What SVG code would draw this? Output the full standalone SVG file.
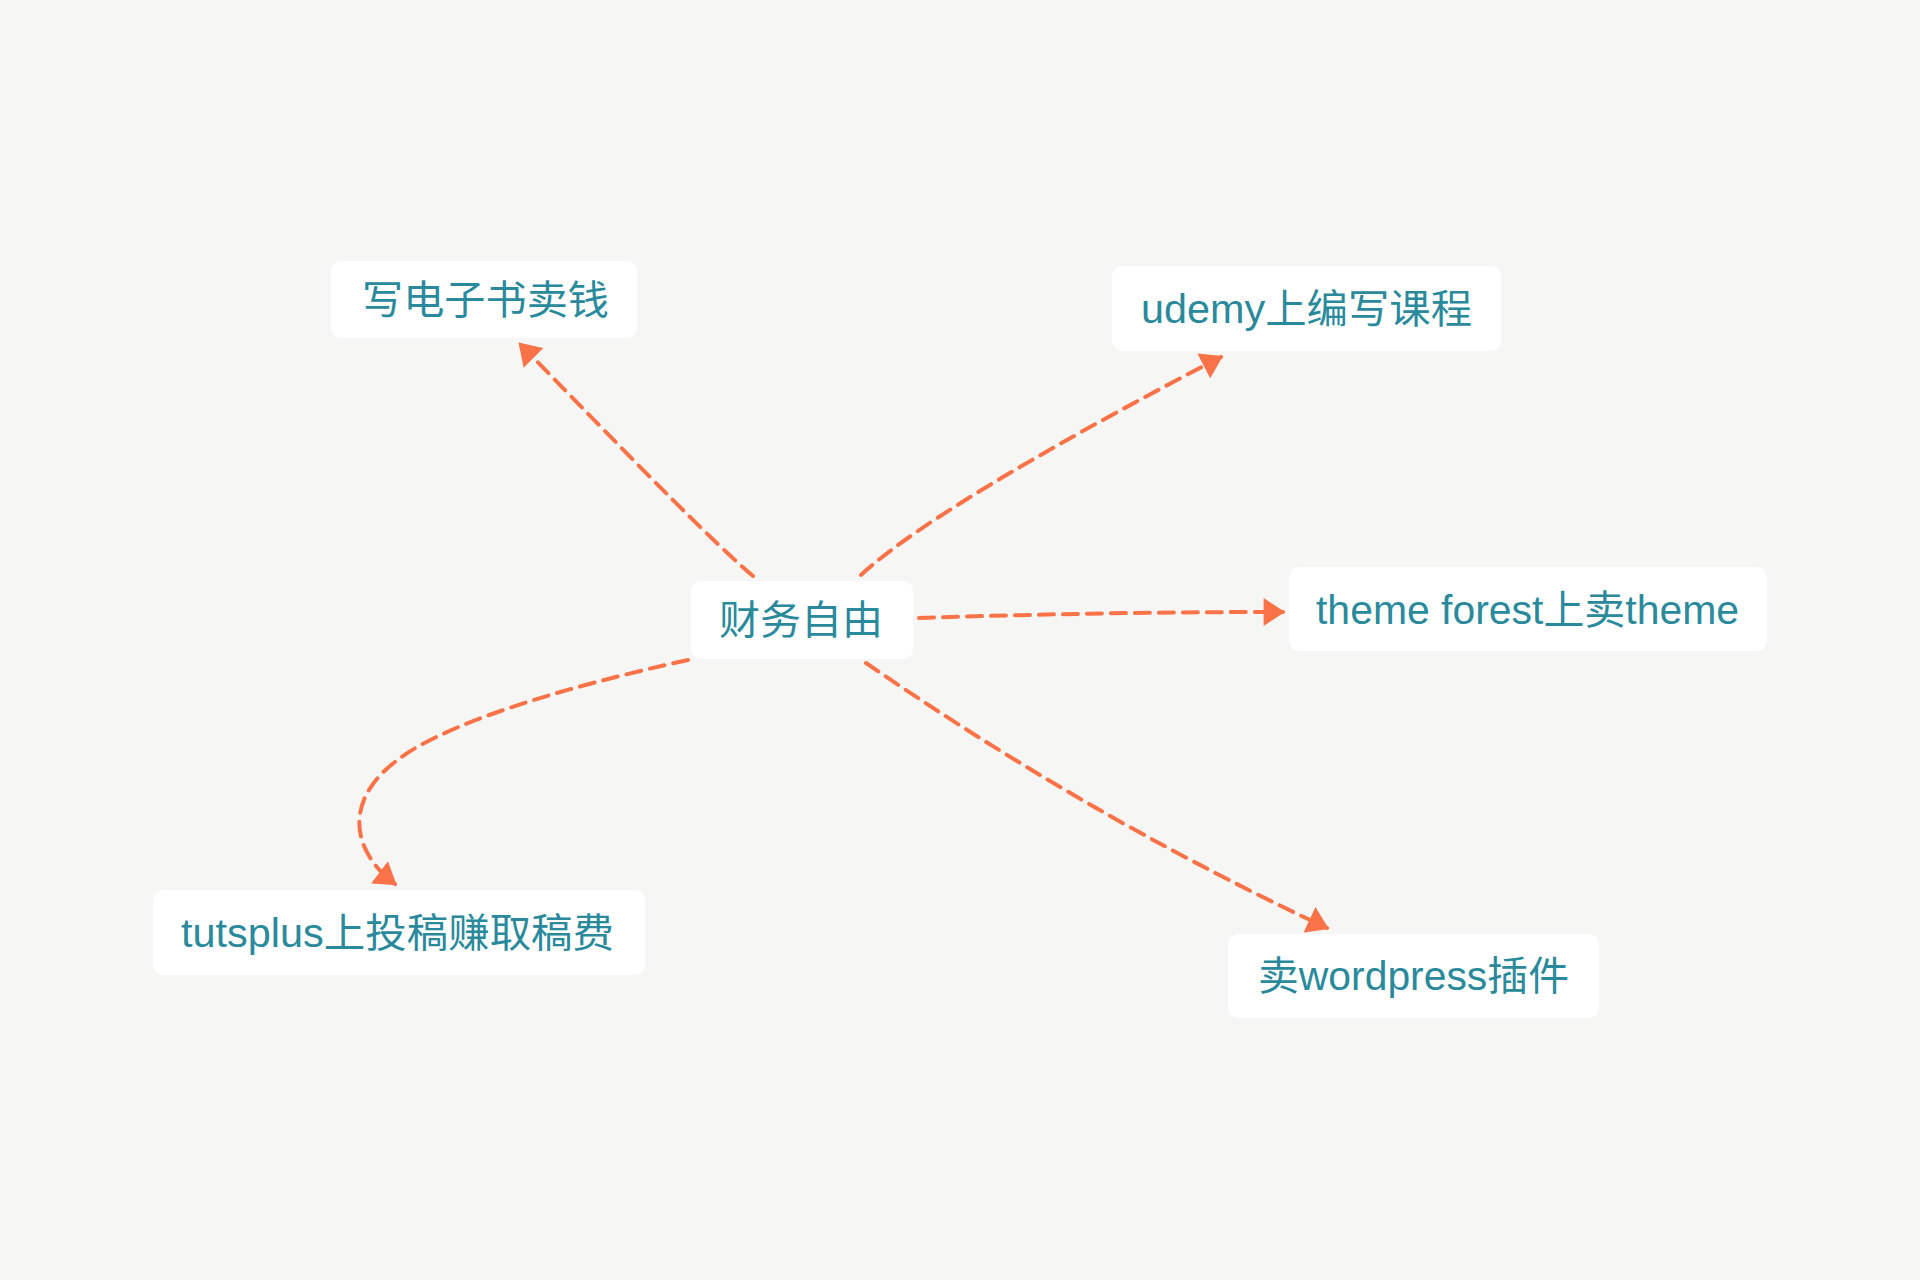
<svg xmlns="http://www.w3.org/2000/svg" width="1920" height="1280" viewBox="0 0 1920 1280">
<style>
.box{fill:#ffffff;}
.lbl{font-family:"Liberation Sans","Noto Sans CJK SC",sans-serif;font-size:40px;fill:#2a8a9c;}
.edge{fill:none;stroke:#fa7247;stroke-width:4;stroke-dasharray:15 9;stroke-linecap:round;}
</style>
<defs>
<marker id="arr" markerUnits="userSpaceOnUse" markerWidth="22" markerHeight="28" viewBox="0 0 20 26" refX="18" refY="13" orient="auto">
<path d="M0,0 L20,13 L0,26 z" fill="#fa7247"/>
</marker>
</defs>
<rect width="1920" height="1280" fill="#f6f7f5"/>
<g id="connectors">
<path class="edge" marker-end="url(#arr)" d="M753,576 C705,536 580,405 520,344"/>
<path class="edge" marker-end="url(#arr)" d="M861,575 C920,520 1080,430 1221,357"/>
<path class="edge" marker-end="url(#arr)" d="M919,618 C1040,614 1160,612 1283,612"/>
<path class="edge" marker-end="url(#arr)" d="M688,660 C560,688 440,725 395,762 C345,800 350,850 395,884"/>
<path class="edge" marker-end="url(#arr)" d="M866,663 C1000,755 1150,845 1327,928"/>
</g>
<g id="n-ebook">
<rect class="box" x="331" y="261" width="306" height="77" rx="10"/>
<text class="lbl" x="362" y="314" textLength="247" lengthAdjust="spacingAndGlyphs">写电子书卖钱</text>
</g>
<g id="n-center">
<rect class="box" x="691" y="581" width="222" height="78" rx="10"/>
<text class="lbl" x="719" y="634" textLength="164" lengthAdjust="spacingAndGlyphs">财务自由</text>
</g>
<g id="n-udemy">
<rect class="box" x="1112" y="266" width="389" height="85" rx="10"/>
<text class="lbl" x="1141" y="323" textLength="331" lengthAdjust="spacingAndGlyphs">udemy上编写课程</text>
</g>
<g id="n-theme">
<rect class="box" x="1289" y="567" width="478" height="84" rx="10"/>
<text class="lbl" x="1316" y="624" textLength="423" lengthAdjust="spacingAndGlyphs">theme forest上卖theme</text>
</g>
<g id="n-tutsplus">
<rect class="box" x="153" y="890" width="492" height="85" rx="10"/>
<text class="lbl" x="181" y="947" textLength="433" lengthAdjust="spacingAndGlyphs">tutsplus上投稿赚取稿费</text>
</g>
<g id="n-wordpress">
<rect class="box" x="1228" y="934" width="371" height="84" rx="10"/>
<text class="lbl" x="1258" y="990" textLength="311" lengthAdjust="spacingAndGlyphs">卖wordpress插件</text>
</g>
</svg>
